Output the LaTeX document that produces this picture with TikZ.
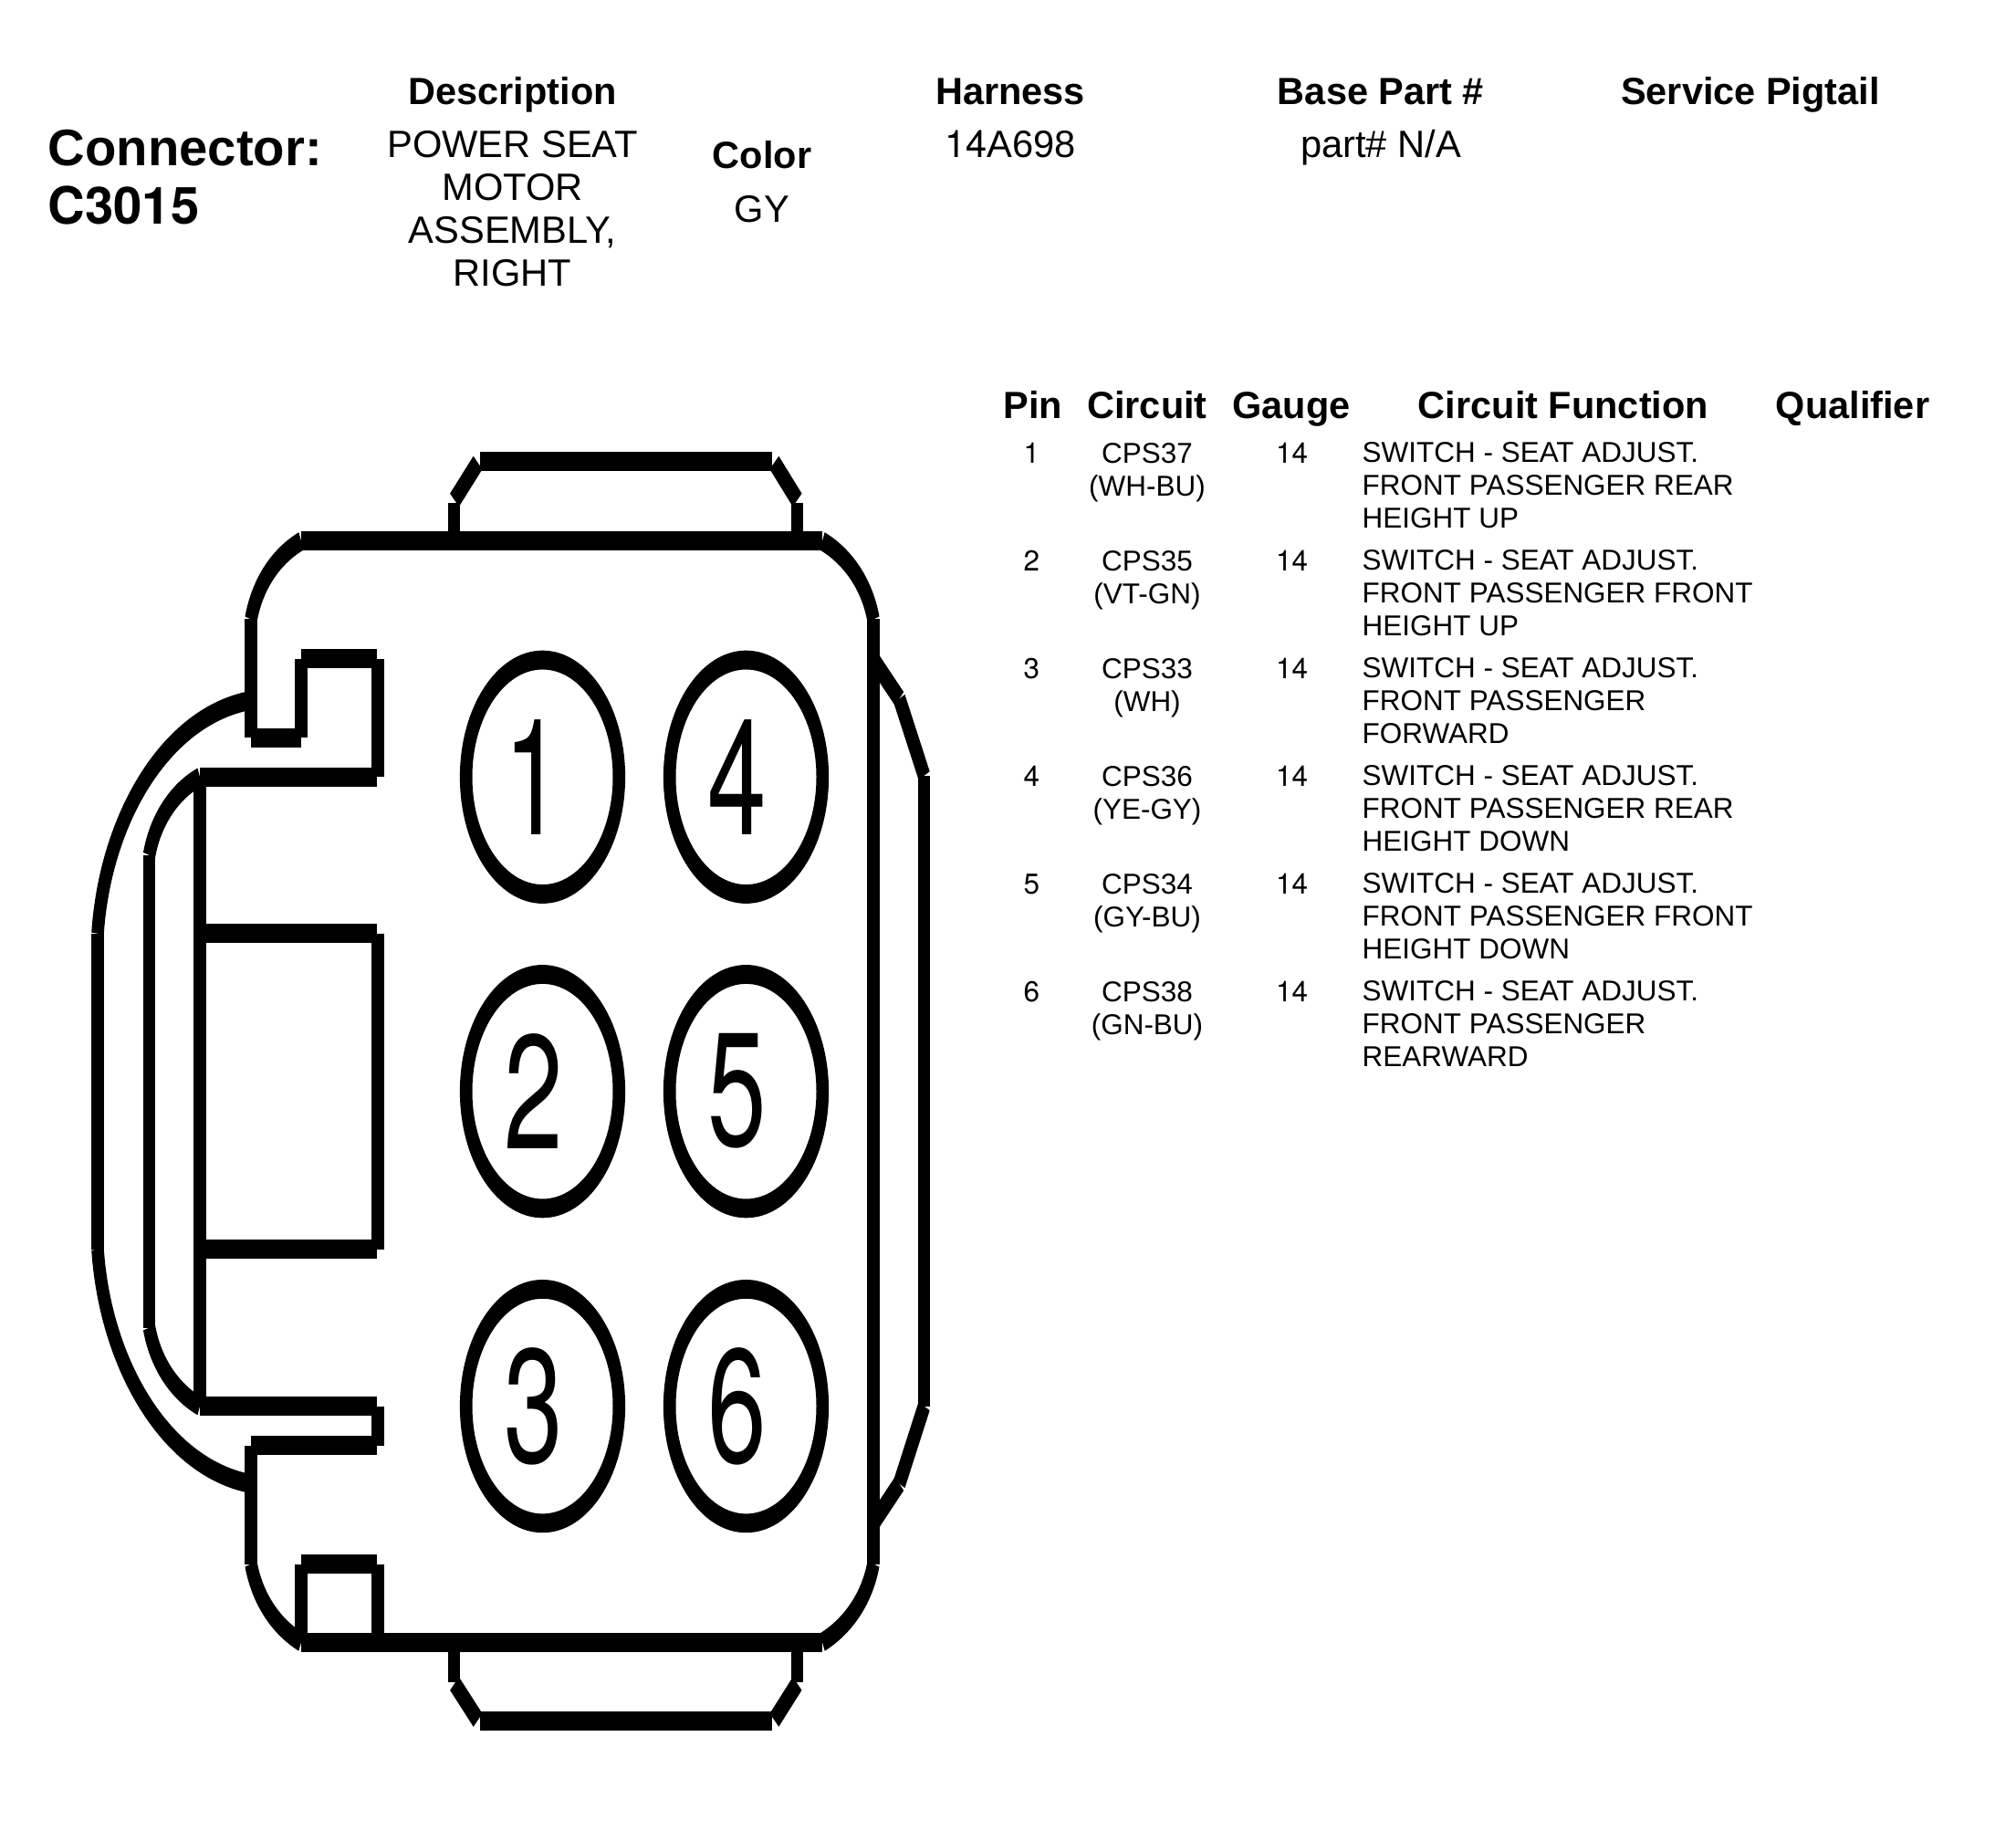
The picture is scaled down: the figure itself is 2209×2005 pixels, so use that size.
\documentclass[tikz,border=0pt]{standalone}
\usepackage{fontspec}
\setmainfont{Liberation Sans}
\newfontfamily\digitfont{TeX Gyre Heros}
\usepackage{tikz}
\tikzset{
    wall/.style={line width=1.36mm, line cap=butt, line join=miter},
    pinhole/.style={circle, draw, line width=1.36mm, minimum size=1.675cm, inner sep=0pt, font=\digitfont\fontsize{33}{36}\selectfont},
    headtext/.style={inner sep=0pt, anchor=base, font=\fontsize{11.8}{13}\bfseries\selectfont},
    valtext/.style={inner sep=0pt, anchor=base, align=center, font=\fontsize{11.85}{13.35}\selectfont},
    tabtext/.style={inner sep=0pt, anchor=base, align=center, font=\fontsize{8.95}{10.1}\selectfont},
}

\begin{document}
\begin{tikzpicture}[x=0.01cm, y=-0.01cm]
    \useasboundingbox (0,0) rectangle (2209,2005);

    \node[inner sep=0pt, anchor=base west, align=left, font=\fontsize{16}{18.2}\bfseries\selectfont] (connector) at (52,245.5) {Connector:\\{\digitfont\bfseries C3015}};

    \node[headtext] (description) at (561.6,114.6) {Description};
    \node[headtext] (harness) at (1107,114.6) {Harness};
    \node[headtext] (basepart) at (1513,114.6) {Base Part \#};
    \node[headtext] (pigtail) at (1918,114.6) {Service Pigtail};
    \node[headtext] (color) at (835,184.5) {Color};

    \node[valtext] (descval) at (561.6,313) {POWER SEAT\\MOTOR\\ASSEMBLY,\\RIGHT};
    \node[valtext] (colorval) at (835,243) {GY};
    \node[valtext] (harnessval) at (1107,172) {{\digitfont 14}A698};
    \node[valtext] (partval) at (1513,172) {part\# N/A};

    \node[headtext] (tabpin) at (1132,458.5) {Pin};
    \node[headtext] (tabcircuit) at (1257,458.5) {Circuit};
    \node[headtext] (tabgauge) at (1415,458.5) {Gauge};
    \node[headtext] (tabfunction) at (1713,458.5) {Circuit Function};
    \node[headtext] (tabqualifier) at (2030,458.5) {Qualifier};

    \foreach \num/\ckt/\wire/\funcb/\funcc [count=\row from 0] in {
        1/CPS37/WH-BU/FRONT PASSENGER REAR/HEIGHT UP,
        2/CPS35/VT-GN/FRONT PASSENGER FRONT/HEIGHT UP,
        3/CPS33/WH/FRONT PASSENGER/FORWARD,
        4/CPS36/YE-GY/FRONT PASSENGER REAR/HEIGHT DOWN,
        5/CPS34/GY-BU/FRONT PASSENGER FRONT/HEIGHT DOWN,
        6/CPS38/GN-BU/FRONT PASSENGER/REARWARD} {
      \node[tabtext] (rowpin\num) at (1130.4,{507.4+118*\row}) {\digitfont\num};
      \node[tabtext] (rowckt\num) at (1257,{543+118*\row}) {\ckt\\(\wire)};
      \node[tabtext] (rowgauge\num) at (1415.5,{507.4+118*\row}) {\digitfont 14};
      \node[tabtext, anchor=base west, align=left] (rowfunc\num) at (1492,{578+118*\row}) {SWITCH - SEAT ADJUST.\\\funcb\\\funcc};
    }

    \begin{scope}[y=-0.006536cm, transform canvas={yscale=1.53}, wall]
      % body
      \draw (330,593) -- (901,593);
      \draw (330,1799.6) -- (901,1799.6);
      \draw (957,678.6) -- (957,1714);
      \draw (275,678.6) -- (275,808.5);
      \draw (275,1584) -- (275,1714);
      \draw (275,678.6) .. controls (282,640) and (302,610) .. (330,593);
      \draw (957,678.6) .. controls (950,640) and (929,610) .. (901,593);
      \draw (275,1714) .. controls (282,1752) and (302,1782) .. (330,1799.6);
      \draw (957,1714) .. controls (950,1752) and (929,1782) .. (901,1799.6);

      % latch notch
      \draw (275,808.5) -- (330,808.5);
      \draw (330,808.5) -- (330,722);
      \draw (330,722) -- (413,722);
      \draw (414,722) -- (414,851.5);
      \draw (413,851.5) -- (219,851.5);
      \draw (219,851.5) -- (219,1541);
      \draw (219,1541) -- (413,1541);
      \draw (414,1541) -- (414,1584);
      \draw (413,1584) -- (275,1584);

      % window
      \draw (219,1023) -- (413,1023);
      \draw (414,1023) -- (414,1369);
      \draw (413,1369) -- (219,1369);

      % corner box
      \draw (330,1799.6) -- (330,1714);
      \draw (330,1714) -- (413,1714);
      \draw (414,1714) -- (414,1799.6);

      % left handle
      \draw (163.5,937) -- (163.5,1455);
      \draw (163.5,937) .. controls (170,900) and (190,868) .. (219,851.5);
      \draw (163.5,1455) .. controls (170,1492) and (190,1524) .. (219,1541);
      \draw (107,1023) -- (107,1369);
      \draw (107,1023) .. controls (115,900) and (180,785) .. (275,767.5);
      \draw (107,1369) .. controls (115,1492) and (180,1608) .. (275,1626);

      % top tab
      \draw (526,506) -- (846,506);
      \draw (523.6,507) -- (498,548);
      \draw (848.4,507) -- (873.6,548);
      \draw (497.5,551) -- (497.5,593);
      \draw (873.6,551) -- (873.6,593);

      % bottom tab
      \draw (526,1886) -- (846,1886);
      \draw (523.6,1885) -- (498,1845);
      \draw (848.4,1885) -- (873.6,1845);
      \draw (497.5,1843) -- (497.5,1799.6);
      \draw (873.6,1843) -- (873.6,1799.6);

      % right rail
      \draw (957,723) -- (985.4,765.7);
      \draw (985.4,765.7) -- (1012.6,850);
      \draw (1012.6,850) -- (1012.6,1541);
      \draw (1012.6,1541) -- (985.4,1626);
      \draw (985.4,1626) -- (957,1669);

      \foreach \num/\px/\py in {1/594.5/851.5, 2/594.5/1196, 3/594.5/1541, 4/817.5/851.5, 5/817.5/1196, 6/817.5/1541}
        \node[pinhole] (pin\num) at (\px,\py) {\kern-0.2cm\raisebox{-0.03cm}{\num}};
    \end{scope}
  \end{tikzpicture}
\end{document}
